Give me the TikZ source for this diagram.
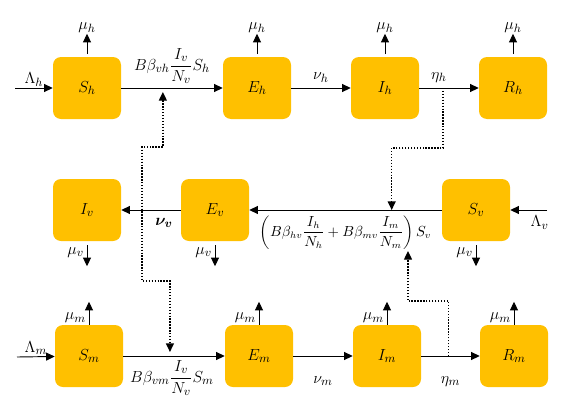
\documentclass[tikz,border=0pt]{standalone}
\usepackage{amsmath,amssymb,bm}
\usepackage{xcolor}
\usetikzlibrary{arrows.meta,positioning,calc}
\definecolor{compgold}{HTML}{FFC000}
\tikzset{
  comp/.style={rectangle, rounded corners=6pt, fill=compgold,
               minimum width=51pt, minimum height=46.5pt, inner sep=0pt,
               font=\fontsize{13}{15}\selectfont},
  flow/.style={-{Triangle[length=6.5pt,width=6pt]}, line width=0.7pt, black},
  infl/.style={-{Triangle[length=6.5pt,width=6pt]}, line width=1pt, black,
               dash pattern=on 1pt off 1.2pt},
  rate/.style={font=\fontsize{12.5}{15}\selectfont, inner sep=1pt},
  bigrate/.style={font=\fontsize{10.5}{12}\selectfont, inner sep=1pt},
}

\begin{document}
\begin{tikzpicture}[x=0.75pt, y=-0.75pt]
\useasboundingbox (0,0) rectangle (575,418);

% human compartments
\node[comp] (Sh) at (87,88) {$S_h$};
\node[comp] (Eh) at (257,88) {$E_h$};
\node[comp] (Ih) at (385,88) {$I_h$};
\node[comp] (Rh) at (513,88) {$R_h$};

% vector compartments
\node[comp] (Iv) at (87,210) {$I_v$};
\node[comp] (Ev) at (215,210) {$E_v$};
\node[comp] (Sv) at (476,210) {$S_v$};

% animal compartments
\node[comp] (Sm) at (89,356) {$S_m$};
\node[comp] (Em) at (259,356) {$E_m$};
\node[comp] (Im) at (387,356) {$I_m$};
\node[comp] (Rm) at (514,356) {$R_m$};

% free ends
\coordinate (inh) at (15,88);
\coordinate (inv) at (547,210);
\coordinate (inm) at (17,357);
\coordinate (fv) at (408,251);

% human flows
\draw[flow] (inh) -- node[rate, above] (lamh) {$\Lambda_h$} (Sh);
\draw[flow] (Sh) -- coordinate[pos=0.41] (sheh)
      node[rate, above=2pt, pos=0.5] (bh) {$\displaystyle B\beta_{vh}\frac{I_v}{N_v}S_h$} (Eh);
\draw[flow] (Eh) -- node[rate, above=3pt] (nuh) {$\nu_h$} (Ih);
\draw[flow] (Ih) -- coordinate[pos=0.4] (ihrh)
      node[rate, above=3pt, pos=0.33] (etah) {$\eta_h$} (Rh);
\foreach \c in {Sh,Eh,Ih,Rh}
  \draw[flow, shorten <=2pt] (\c.north) -- ++(0,-23)
        node[rate, above, inner sep=0.5pt] (mu\c) {$\mu_h$};

% vector flows
\draw[flow] (inv) -- node[rate, below=3pt, pos=0.2] (lamv) {$\Lambda_v$} (Sv);
\draw[flow] (Sv) -- coordinate[pos=0.26] (tv)
      node[bigrate, below=3pt, pos=0.5] (frcv)
      {$\displaystyle\left(B\beta_{hv}\frac{I_h}{N_h}+B\beta_{mv}\frac{I_m}{N_m}\right)S_v$} (Ev);
\draw[flow] (Ev) -- node[rate, below=5pt, pos=0.28] (nuv) {$\bm{\nu_v}$} (Iv);
\foreach \c in {Iv,Ev,Sv}
  \draw[flow, shorten <=3pt] (\c.south) -- ++(0,25)
        node[rate, left=1pt, pos=0.45] (mu\c) {$\mu_v$};

% animal flows
\draw[flow] (inm) -- node[rate, above] (lamm) {$\Lambda_m$} (Sm);
\draw[flow] (Sm) -- coordinate[pos=0.46] (smem)
      node[rate, below=2pt, pos=0.48] (bm) {$\displaystyle B\beta_{vm}\frac{I_v}{N_v}S_m$} (Em);
\draw[flow] (Em) -- node[rate, below=14pt] (num) {$\nu_m$} (Im);
\draw[flow] (Im) -- coordinate[pos=0.47] (imrm)
      node[rate, below=14pt] (etam) {$\eta_m$} (Rm);
\foreach \c in {Sm,Em,Im,Rm}
  \draw[flow] (\c.north) -- ++(0,-23)
        node[rate, left=1pt, pos=0.3] (mu\c) {$\mu_m$};

% cross-species influence
\draw[infl, {Triangle[length=6.5pt,width=6pt]}-{Triangle[length=6.5pt,width=6pt]},
      shorten <=3pt, shorten >=3pt]
      (sheh) -- ++(0,59) -| (142,281) -| (smem);
\draw[infl] (ihrh) -- ++(0,60) -| (tv);
\draw[infl] (imrm) -- ++(0,-55) -| (fv);

\end{tikzpicture}
\end{document}
